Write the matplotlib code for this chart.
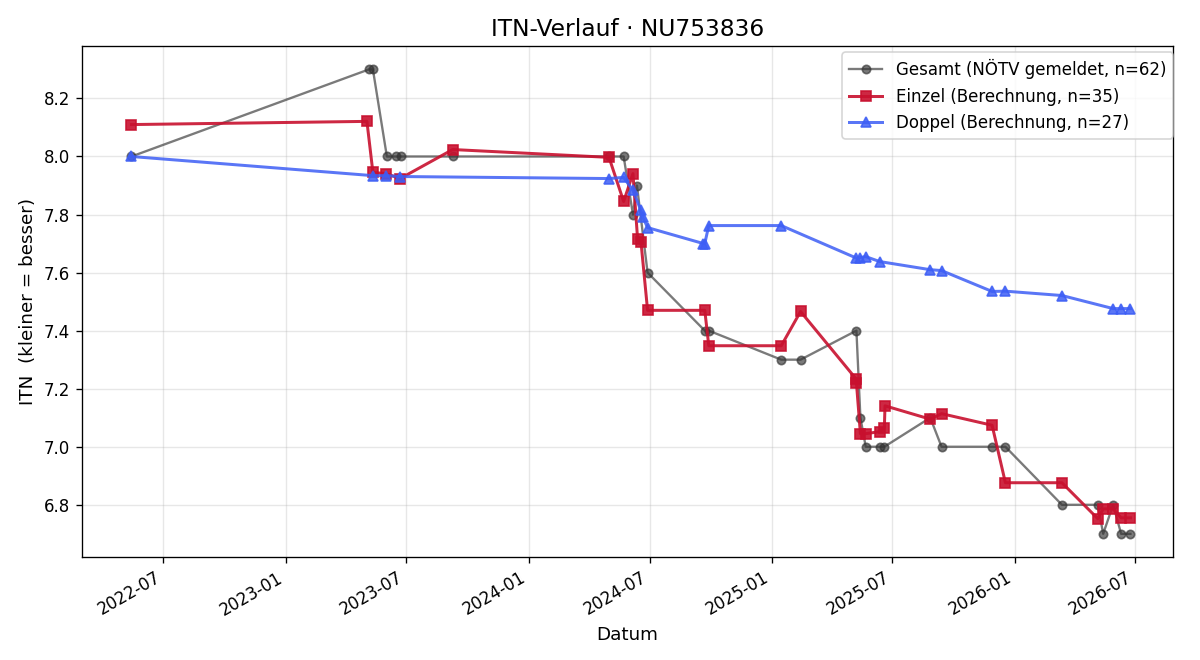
import matplotlib
matplotlib.use("Agg")
import matplotlib.pyplot as plt
import matplotlib.dates as mdates
import pandas as pd

gesamt_dates = ["2022-05-14", "2023-05-06", "2023-05-12", "2023-06-02", "2023-06-16", "2023-06-23",
                "2023-09-09", "2024-05-01", "2024-05-23", "2024-06-06", "2024-06-12", "2024-06-28",
                "2024-09-22", "2024-09-28", "2025-01-15", "2025-02-13", "2025-05-08", "2025-05-14",
                "2025-05-22", "2025-06-12", "2025-06-19", "2025-08-27", "2025-09-13", "2025-11-28",
                "2025-12-18", "2026-03-13", "2026-05-06", "2026-05-14", "2026-05-29", "2026-06-10",
                "2026-06-24"]
gesamt_vals = [8.0, 8.3, 8.3, 8.0, 8.0, 8.0,
               8.0, 8.0, 8.0, 7.8, 7.9, 7.6,
               7.4, 7.4, 7.3, 7.3, 7.4, 7.1,
               7.0, 7.0, 7.0, 7.1, 7.0, 7.0,
               7.0, 6.8, 6.8, 6.7, 6.8, 6.7,
               6.7]

einzel_dates = ["2022-05-14", "2023-05-03", "2023-05-12", "2023-06-01", "2023-06-22", "2023-09-09",
                "2024-05-01", "2024-05-23", "2024-06-06", "2024-06-13", "2024-06-18", "2024-06-28",
                "2024-09-22", "2024-09-28", "2025-01-15", "2025-02-13", "2025-05-07", "2025-05-08",
                "2025-05-14", "2025-05-22", "2025-06-12", "2025-06-19", "2025-06-20", "2025-08-27",
                "2025-09-13", "2025-11-28", "2025-12-18", "2026-03-13", "2026-05-06", "2026-05-14",
                "2026-05-29", "2026-06-10", "2026-06-24"]
einzel_vals = [8.110, 8.121, 7.945, 7.941, 7.924, 8.024,
               7.997, 7.845, 7.941, 7.715, 7.707, 7.470,
               7.470, 7.348, 7.348, 7.466, 7.235, 7.221,
               7.045, 7.045, 7.052, 7.066, 7.141, 7.095,
               7.114, 7.074, 6.876, 6.876, 6.752, 6.786,
               6.786, 6.755, 6.755]

doppel_dates = ["2022-05-14", "2023-05-12", "2023-06-01", "2023-06-22", "2024-05-01", "2024-05-23",
                "2024-06-06", "2024-06-18", "2024-06-21", "2024-06-28", "2024-09-20", "2024-09-22",
                "2024-09-28", "2025-01-15", "2025-05-08", "2025-05-14", "2025-05-22", "2025-06-12",
                "2025-08-27", "2025-09-13", "2025-11-28", "2025-12-18", "2026-03-13", "2026-05-29",
                "2026-06-10", "2026-06-24"]
doppel_vals = [8.000, 7.934, 7.934, 7.931, 7.924, 7.928,
               7.883, 7.814, 7.790, 7.755, 7.700, 7.700,
               7.762, 7.762, 7.650, 7.652, 7.655, 7.638,
               7.610, 7.607, 7.535, 7.536, 7.521, 7.476,
               7.476, 7.476]

fig, ax = plt.subplots(figsize=(10, 5.5), dpi=120)

ax.plot(pd.to_datetime(gesamt_dates), gesamt_vals, color="#333333", alpha=0.65, marker="o",
        markersize=5, linewidth=1.4, label="Gesamt (NÖTV gemeldet, n=62)")
ax.plot(pd.to_datetime(einzel_dates), einzel_vals, color="#c8102e", alpha=0.9, marker="s",
        markersize=6, linewidth=1.8, label="Einzel (Berechnung, n=35)")
ax.plot(pd.to_datetime(doppel_dates), doppel_vals, color="#3d5ef5", alpha=0.85, marker="^",
        markersize=6, linewidth=1.8, label="Doppel (Berechnung, n=27)")

ax.set_title("ITN-Verlauf · NU753836", fontsize=14)
ax.set_xlabel("Datum", fontsize=11)
ax.set_ylabel("ITN  (kleiner = besser)", fontsize=11)
ax.grid(True, alpha=0.3)
ax.set_xlim(pd.Timestamp("2022-02-28"), pd.Timestamp("2026-08-27"))
ax.xaxis.set_major_formatter(mdates.DateFormatter("%Y-%m"))
ax.legend(loc="upper right", fontsize=10, bbox_to_anchor=(1.0075, 1.004))
fig.autofmt_xdate()
fig.subplots_adjust(left=0.068, right=0.9775, top=0.930, bottom=0.156)
fig.savefig("out.png")
